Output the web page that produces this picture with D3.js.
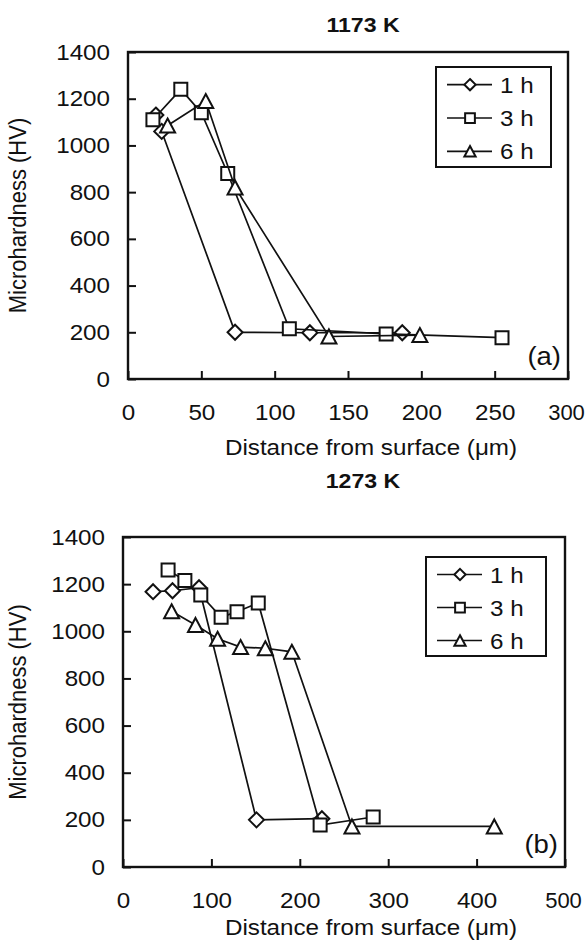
<!DOCTYPE html>
<html>
<head>
<meta charset="utf-8">
<script src="https://cdn.jsdelivr.net/npm/d3@7"></script>
<style>
  body { margin: 0; background: #fff; }
</style>
</head>
<body>
<svg id="chart" width="587" height="943"></svg>
<script>
// ---- data ----
const seriesNames = ['1 h', '3 h', '6 h'];
const markerTypes = ['diamond', 'square', 'triangle'];
const yTickValues = [0, 200, 400, 600, 800, 1000, 1200, 1400];
const xTicksA = [0, 50, 100, 150, 200, 250, 300];
const xTicksB = [0, 100, 200, 300, 400, 500];

// (a) 1173 K
const depthA_1h = [19, 23, 73, 124, 187];
const hvA_1h = [1130, 1060, 200, 198, 198];
const depthA_3h = [17, 36, 50, 68, 110, 176, 255];
const hvA_3h = [1110, 1240, 1140, 880, 215, 193, 177];
const depthA_6h = [27, 53, 73, 137, 199];
const hvA_6h = [1085, 1190, 820, 182, 188];

// (b) 1273 K
const depthB_1h = [34, 56, 86, 151, 225];
const hvB_1h = [1168, 1172, 1185, 200, 205];
const depthB_3h = [51, 70, 88, 111, 129, 153, 223, 283];
const hvB_3h = [1260, 1215, 1154, 1060, 1083, 1120, 178, 212];
const depthB_6h = [55, 82, 107, 133, 161, 191, 259, 420];
const hvB_6h = [1085, 1027, 968, 933, 928, 913, 172, 172];

// ---- layout ----
const FONT = '"Liberation Sans", Arial, sans-serif';
const FS = 22;
const SX = 1.1; // the scanned figure is slightly wider than tall
const INK = '#111';

const svg = d3.select('#chart');

const panels = [
  {
    title: '1173 K', tag: '(a)', xDomain: [0, 300], xTicks: xTicksA,
    left: 128, right: 568, top: 52, bottom: 379,
    titleY: 32, xTitleY: 455, yTitleX: 26,
    legend: { x0: 436, x1: 551, y0: 67, y1: 167 },
    series: [[depthA_1h, hvA_1h], [depthA_3h, hvA_3h], [depthA_6h, hvA_6h]]
  },
  {
    title: '1273 K', tag: '(b)', xDomain: [0, 500], xTicks: xTicksB,
    left: 123, right: 565, top: 537, bottom: 867,
    titleY: 488, xTitleY: 935, yTitleX: 26,
    legend: { x0: 426, x1: 546, y0: 557, y1: 656 },
    series: [[depthB_1h, hvB_1h], [depthB_3h, hvB_3h], [depthB_6h, hvB_6h]]
  }
];

// marker outlines centred on the point
function markerPath(type, k) {
  if (type === 'diamond') {
    const r = 7.5 * k;
    return `M0,${-r}L${r},0L0,${r}L${-r},0Z`;
  }
  if (type === 'square') {
    const h = 6.5 * k;
    return `M${-h},${-h}H${h}V${h}H${-h}Z`;
  }
  const w = 7.5 * k, h = 7 * k;
  return `M0,${-h}L${w},${h}L${-w},${h}Z`;
}

// stretched text helper
function label(g, x, y, str, opts = {}) {
  return g.append('text')
    .attr('transform', `translate(${x},${y}) scale(${SX},1)` + (opts.rotate ? ` rotate(${opts.rotate})` : ''))
    .attr('text-anchor', opts.anchor || 'start')
    .attr('font-family', FONT)
    .attr('font-size', (opts.size || FS) + 'px')
    .attr('font-weight', opts.weight || 'normal')
    .attr('fill', INK)
    .text(str);
}

panels.forEach(p => {
  const g = svg.append('g');

  const x = d3.scaleLinear().domain(p.xDomain).range([p.left, p.right]);
  const y = d3.scaleLinear().domain([0, 1400]).range([p.bottom, p.top]);

  // axes with inward ticks
  const xAxis = d3.axisBottom(x)
    .tickValues(p.xTicks)
    .tickSizeInner(-8)
    .tickSizeOuter(0)
    .tickPadding(25)
    .tickFormat(d3.format('d'));
  const yAxis = d3.axisLeft(y)
    .tickValues(yTickValues)
    .tickSizeInner(-8)
    .tickSizeOuter(0)
    .tickPadding(18)
    .tickFormat(d3.format('d'));

  const xg = g.append('g')
    .attr('transform', `translate(0,${p.bottom})`)
    .call(xAxis);
  const yg = g.append('g')
    .attr('transform', `translate(${p.left},0)`)
    .call(yAxis);

  [xg, yg].forEach(ax => {
    ax.select('.domain').remove();
    ax.selectAll('line').attr('stroke', INK).attr('stroke-width', 2);
    ax.selectAll('text')
      .attr('fill', INK)
      .attr('font-family', FONT)
      .attr('font-size', FS + 'px');
  });
  // last x label sits against the page edge, keep it inside
  xg.selectAll('text').attr('transform', (d, i, n) => i === n.length - 1 ? 'translate(-2,0)' : `scale(${SX},1)`);
  yg.selectAll('text')
    .attr('x', -18 / SX)
    .attr('transform', `scale(${SX},1)`);

  // plot frame
  g.append('rect')
    .attr('x', p.left).attr('y', p.top)
    .attr('width', p.right - p.left).attr('height', p.bottom - p.top)
    .attr('fill', 'none').attr('stroke', INK).attr('stroke-width', 2.4);

  // series
  const line = d3.line().x(d => x(d[0])).y(d => y(d[1]));
  p.series.forEach(([xs, ys], i) => {
    const pts = xs.map((v, j) => [v, ys[j]]);
    g.append('path')
      .attr('d', line(pts))
      .attr('fill', 'none')
      .attr('stroke', INK)
      .attr('stroke-width', 1.7);
    g.selectAll(null)
      .data(pts)
      .join('path')
      .attr('transform', d => `translate(${x(d[0])},${y(d[1])})`)
      .attr('d', markerPath(markerTypes[i], 1))
      .attr('fill', '#fff')
      .attr('stroke', INK)
      .attr('stroke-width', 2);
  });

  // legend
  const L = p.legend;
  g.append('rect')
    .attr('x', L.x0).attr('y', L.y0)
    .attr('width', L.x1 - L.x0).attr('height', L.y1 - L.y0)
    .attr('fill', '#fff').attr('stroke', INK).attr('stroke-width', 2);
  const rowH = (L.y1 - L.y0) / 3;
  seriesNames.forEach((name, i) => {
    const cy = L.y0 + rowH * (i + 0.5) + 1;
    g.append('line')
      .attr('x1', L.x0 + 11).attr('x2', L.x0 + 56)
      .attr('y1', cy).attr('y2', cy)
      .attr('stroke', INK).attr('stroke-width', 1.7);
    g.append('path')
      .attr('transform', `translate(${L.x0 + 34},${cy})`)
      .attr('d', markerPath(markerTypes[i], 0.75))
      .attr('fill', '#fff').attr('stroke', INK).attr('stroke-width', 2);
    label(g, L.x0 + 64, cy + 8, name);
  });

  // titles and labels
  label(g, 363, p.titleY, p.title, { anchor: 'middle', weight: 'bold', size: 21 });
  label(g, 371, p.xTitleY, 'Distance from surface (\u03bcm)', { anchor: 'middle' });
  label(g, p.yTitleX, (p.top + p.bottom) / 2, 'Microhardness (HV)', { anchor: 'middle', rotate: -90 });
  label(g, p.right - 7, p.bottom - 14, p.tag, { anchor: 'end', size: 25 });
});
</script>
</body>
</html>
